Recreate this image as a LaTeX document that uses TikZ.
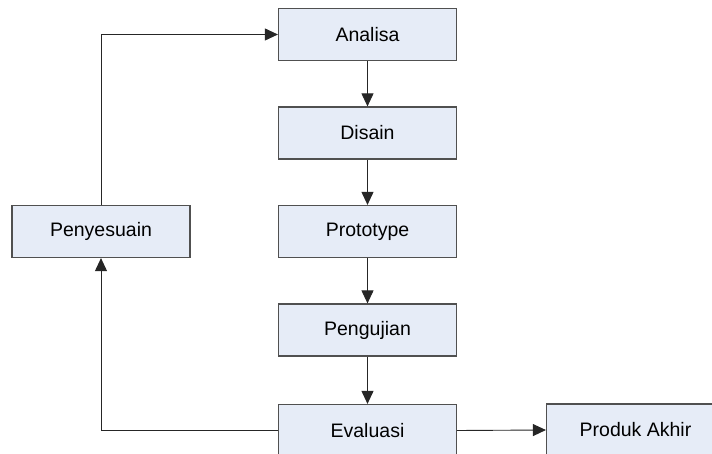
\documentclass[tikz,border=0pt]{standalone}
\usepackage{fontspec}
\setmainfont{Liberation Sans}
\usetikzlibrary{arrows.meta}
\definecolor{boxfill}{HTML}{E6ECF7}
\definecolor{boxline}{HTML}{505050}
\tikzset{
  procbox/.style={draw=boxline, line width=1.2pt, fill=boxfill, minimum width=178pt, minimum height=52pt, inner sep=0pt,
    font=\fontsize{19.5}{23}\selectfont},
  conn/.style={draw=black!85, line width=0.9pt, -{Triangle[length=13pt,width=12pt]}},
}
\begin{document}
\begin{tikzpicture}[x=1pt,y=-1pt]
\useasboundingbox (0,0) rectangle (712,454);
\node[procbox] (ana) at (367.5,34.5) {Analisa};
\node[procbox] (dis) at (367.5,133) {Disain};
\node[procbox] (pro) at (367.5,231.5) {Prototype};
\node[procbox] (pen) at (367.5,330) {Pengujian};
\node[procbox] (eva) at (367.5,430.5) {Evaluasi};
\node[procbox] (pny) at (101,231.5) {Penyesuain};
\node[procbox] (pak) at (635.5,430) {Produk Akhir};
\draw[conn] (ana) -- (dis);
\draw[conn] (dis) -- (pro);
\draw[conn] (pro) -- (pen);
\draw[conn] (pen) -- (eva);
\draw[conn] (eva.east) -- (pak.west);
\draw[conn] (eva.west) -| (pny.south);
\draw[conn] (pny.north) |- (ana.west);
\end{tikzpicture}
\end{document}
